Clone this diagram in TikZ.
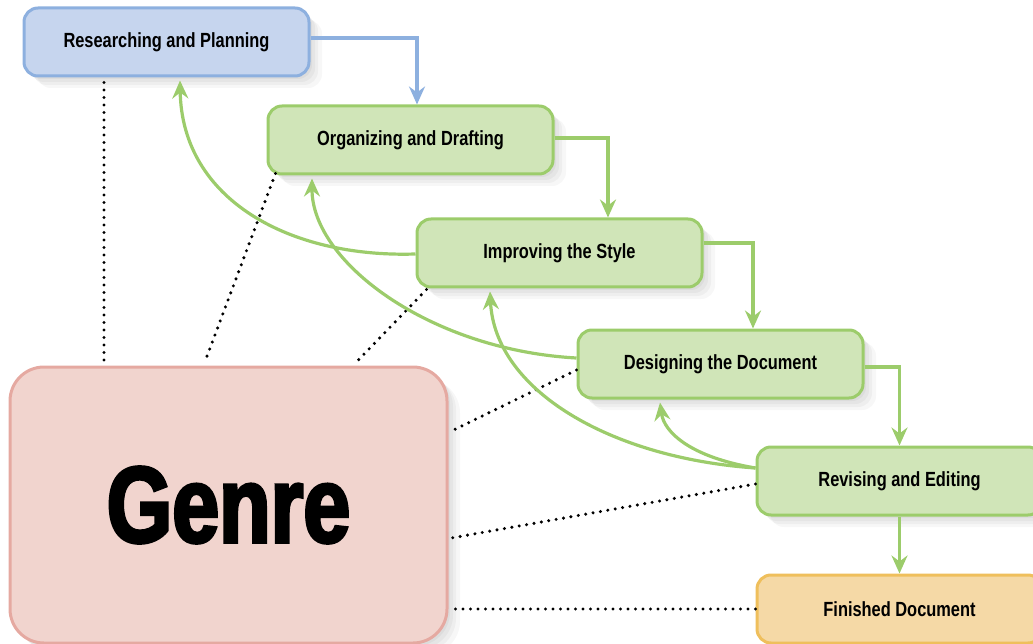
\documentclass[tikz,border=0pt]{standalone}
\usepackage{fontspec}
\setmainfont{Liberation Sans}[FakeStretch=0.80]
\newfontfamily\genrefont{Liberation Sans}[FakeStretch=0.78,FakeBold=3]
\usetikzlibrary{arrows.meta,shadows}
\definecolor{bluefill}{HTML}{C6D5EE}
\definecolor{blueline}{HTML}{8DB0DF}
\definecolor{greenfill}{HTML}{D0E5B8}
\definecolor{greenline}{HTML}{9CCC6B}
\definecolor{orangefill}{HTML}{F5D9A6}
\definecolor{orangeline}{HTML}{EFBF5C}
\definecolor{pinkfill}{HTML}{F1D4CE}
\definecolor{pinkline}{HTML}{E5A9A1}
\tikzset{
  softshadow/.style={
    drop shadow={shadow xshift=3pt, shadow yshift=-3pt, opacity=0.04, fill=black},
    drop shadow={shadow xshift=6pt, shadow yshift=-6pt, opacity=0.04, fill=black},
    drop shadow={shadow xshift=9pt, shadow yshift=-9pt, opacity=0.035, fill=black},
    drop shadow={shadow xshift=13pt, shadow yshift=-12pt, opacity=0.03, fill=black}},
  stepbox/.style={rounded corners=14pt, line width=3pt, minimum width=285pt, minimum height=68pt,
    inner sep=0pt, font=\fontsize{20.5}{24}\selectfont\bfseries, softshadow},
  bluebox/.style={stepbox, draw=blueline, fill=bluefill},
  greenbox/.style={stepbox, draw=greenline, fill=greenfill},
  orangebox/.style={stepbox, draw=orangeline, fill=orangefill},
  genrebox/.style={rounded corners=34pt, line width=3pt, draw=pinkline, fill=pinkfill,
    minimum width=437pt, minimum height=276pt, inner sep=0pt,
    font=\genrefont\fontsize{108}{112}\selectfont\bfseries, softshadow},
  tip/.style={-{Stealth[length=18pt,width=16pt,inset=6pt]}},
  flow/.style={tip, line width=3.2pt, draw=greenline},
  blueflow/.style={tip, line width=3.2pt, draw=blueline},
  link/.style={line width=3.4pt, dash pattern=on 0pt off 7.5pt, line cap=round, draw=black},
}
\begin{document}
\begin{tikzpicture}[x=1pt,y=-1pt]
\useasboundingbox (0,0) rectangle (1033,644);
\clip (0,0) rectangle (1033,644);

\node[genrebox] (genre) at (228.5,505) {Genre};
\node[bluebox] (res) at (166.5,42) {Researching and Planning};
\node[greenbox] (org) at (410.5,140) {Organizing and Drafting};
\node[greenbox] (imp) at (559.5,253) {Improving the Style};
\node[greenbox] (des) at (720.5,364) {Designing the Document};
\node[greenbox] (rev) at (899.5,481) {Revising and Editing};
\node[orangebox] (fin) at (899.5,609) {Finished Document};

% dotted links to Genre
\draw[link] ([xshift=-62.5pt,yshift=-5pt]res.south) -- (104,0 |- genre.north);
\draw[link] ([xshift=9pt,yshift=2pt]org.south west) -- ([xshift=-23.5pt,yshift=4pt]genre.north);
\draw[link] ([xshift=11pt,yshift=-1pt]imp.south west) -- ([xshift=126.5pt,yshift=2pt]genre.north);
\draw[link] ([yshift=-6pt]des.west) -- ([yshift=-67pt]genre.north east);
\draw[link] ([yshift=-3pt]rev.west) -- ([yshift=-173pt]genre.north east);
\draw[link] (fin.west) -- (genre.east |- fin.west);

% forward flow
\draw[blueflow] ([yshift=4pt]res.east) -| ([xshift=6.5pt]org.north);
\draw[flow] ([yshift=2pt]org.east) -| ([xshift=48.5pt]imp.north);
\draw[flow] ([yshift=10pt]imp.east) -| ([xshift=32.5pt]des.north);
\draw[flow] ([yshift=-3pt]des.east) -| (rev.north);
\draw[flow] (rev.south) -- (fin.north);

% feedback curves
\draw[flow] ([yshift=-1pt]imp.west) .. controls (290,258) and (182,200) .. ([xshift=13.5pt,yshift=-3pt]res.south);
\draw[flow] ([yshift=6pt]des.west) .. controls (430,350) and (312,262) .. ([xshift=-98.5pt,yshift=-3pt]org.south);
\draw[flow] ([yshift=13pt]rev.west) .. controls (690,457) and (664,432) .. ([xshift=-60.5pt,yshift=-3pt]des.south);
\draw[flow] ([yshift=13pt]rev.west) .. controls (610,458) and (495,390) .. ([xshift=-69.5pt,yshift=-3pt]imp.south);
\end{tikzpicture}
\end{document}
